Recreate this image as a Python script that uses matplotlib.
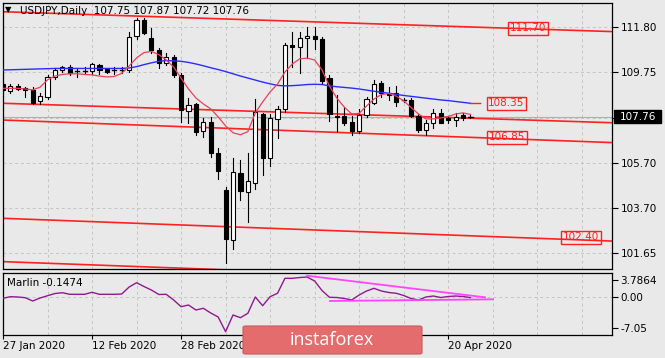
import numpy as np
import matplotlib
matplotlib.use('Agg')
import matplotlib.pyplot as plt
from matplotlib.patches import Rectangle, FancyBboxPatch

# daily candles, 27 Jan 2020 .. 23 Apr 2020 (one row per trading day)
opens = [109.22, 108.93, 109.15, 109.05, 108.95, 108.49, 108.66, 109.56, 109.84, 109.98,
         109.82, 109.83, 109.81, 110.08, 109.89, 109.84, 109.86, 109.87, 111.39, 112.12,
         111.28, 110.76, 110.19, 110.43, 109.64, 108.04, 108.34, 107.14, 107.55, 106.13,
         104.49, 102.25, 105.26, 104.41, 104.81, 107.89, 105.90, 107.65, 108.10, 110.98,
         110.87, 111.28, 111.40, 111.24, 109.49, 107.80, 107.80, 107.55, 107.14, 107.85,
         108.38, 109.27, 108.85, 108.83, 108.53, 108.52, 107.80, 107.17, 107.48, 107.92,
         107.70, 107.62, 107.85, 107.75]
highs = [109.32, 109.25, 109.25, 109.10, 109.10, 108.84, 109.64, 109.93, 110.03, 110.08,
         109.93, 109.98, 110.18, 110.13, 109.93, 109.98, 109.98, 111.58, 112.21, 112.19,
         111.74, 110.84, 110.61, 110.53, 109.72, 108.60, 108.40, 107.70, 107.74, 106.36,
         104.63, 105.91, 105.83, 106.13, 108.57, 107.95, 107.89, 108.25, 111.05, 111.54,
         111.58, 111.77, 111.77, 111.33, 109.64, 108.75, 108.22, 107.80, 108.10, 108.67,
         109.42, 109.38, 109.12, 109.15, 108.62, 108.60, 107.88, 107.63, 108.10, 108.10,
         107.82, 107.92, 107.92, 107.87]
lows = [108.80, 108.85, 108.95, 108.63, 108.34, 108.34, 108.56, 109.44, 109.79, 109.62,
        109.54, 109.69, 109.69, 109.69, 109.74, 109.69, 109.74, 109.79, 111.26, 111.46,
        110.61, 109.93, 110.09, 109.56, 107.54, 107.47, 106.95, 106.87, 105.98, 104.97,
        101.20, 101.84, 104.04, 103.07, 104.52, 105.16, 105.54, 106.80, 107.99, 109.98,
        109.72, 110.38, 110.79, 109.30, 107.57, 107.15, 107.38, 106.95, 107.05, 107.77,
        108.34, 108.67, 108.52, 108.26, 108.43, 107.75, 107.10, 106.95, 107.25, 107.48,
        107.50, 107.35, 107.62, 107.72]
closes = [108.95, 109.14, 109.03, 108.97, 108.38, 108.71, 109.54, 109.86, 109.98, 109.72,
          109.80, 109.82, 110.13, 109.84, 109.78, 109.86, 109.88, 111.36, 112.11, 111.51,
          110.76, 110.16, 110.46, 109.64, 108.07, 108.30, 107.10, 107.55, 106.16, 105.35,
          102.28, 105.30, 104.46, 104.90, 107.99, 105.90, 107.72, 108.10, 110.98, 110.87,
          111.28, 111.40, 111.25, 109.38, 107.87, 107.76, 107.50, 107.14, 107.85, 108.55,
          109.24, 108.85, 108.75, 108.44, 108.51, 107.80, 107.16, 107.48, 107.92, 107.50,
          107.60, 107.77, 107.70, 107.76]

# moving averages as drawn on the chart
ma_fast = [109.04, 109.04, 109.04, 109.01, 108.97, 109.09, 109.42, 109.59, 109.66, 109.69,
           109.69, 109.66, 109.64, 109.59, 109.55, 109.57, 109.71, 110.04, 110.40, 110.64,
           110.69, 110.55, 110.31, 109.99, 109.50, 109.01, 108.61, 108.34, 108.12, 107.76,
           107.36, 107.05, 106.96, 107.10, 107.94, 108.43, 108.88, 109.23, 109.77, 110.13,
           110.36, 110.39, 110.31, 109.86, 109.14, 108.60, 108.20, 107.89, 107.92, 108.25,
           108.56, 108.76, 108.81, 108.69, 108.48, 108.18, 107.89, 107.67, 107.67, 107.71,
           107.78, 107.89, 107.94, 107.87]
ma_slow = [109.86, 109.87, 109.88, 109.89, 109.90, 109.91, 109.92, 109.93, 109.93, 109.93,
           109.93, 109.93, 109.93, 109.93, 109.93, 109.93, 109.93, 109.95, 110.01, 110.10,
           110.18, 110.25, 110.28, 110.27, 110.25, 110.20, 110.13, 110.05, 109.96, 109.88,
           109.79, 109.69, 109.59, 109.50, 109.41, 109.32, 109.24, 109.17, 109.15, 109.16,
           109.18, 109.21, 109.22, 109.21, 109.15, 109.11, 109.08, 109.05, 109.01, 108.96,
           108.91, 108.86, 108.82, 108.77, 108.72, 108.68, 108.64, 108.60, 108.56, 108.52,
           108.49, 108.45, 108.41, 108.37]

marlin = [-0.32, 0.05, -0.02, -0.18, -0.93, -0.25, 0.27, 0.77, 0.95, 0.59,
          0.59, 0.59, 1.05, 0.59, 0.59, 0.59, 0.66, 2.25, 3.23, 2.36,
          1.57, 0.55, 0.59, -0.70, -2.23, -1.84, -2.98, -2.59, -3.66, -4.57,
          -7.91, -4.11, -4.73, -3.73, -0.02, -2.00, 0.05, 0.82, 4.23, 4.23,
          4.41, 4.52, 3.61, 1.45, -0.09, -0.14, -0.36, -0.70, 0.43, 1.34,
          1.95, 1.34, 1.00, 0.82, 0.32, -0.36, -0.70, -0.02, 0.20, -0.14,
          0.09, 0.20, 0.09, -0.1474]

# channel lines: (bar, price) end points
channel_lines = [
    [(0, 112.47), (82.08, 111.58)],
    [(0, 108.37), (82.08, 107.50)],
    [(0, 107.62), (82.08, 106.61)],
    [(0, 103.22), (82.08, 102.20)],
    [(0, 101.28), (82.08, 100.28)],
]
# trend lines on the oscillator
marlin_lines = [
    [(40.97, 4.82), (64.96, -0.09)],
    [(44.07, -0.93), (66.04, -0.55)],
]

price_ticks = [111.80, 109.75, 107.70, 105.70, 103.70, 101.65]
# 107.70 sits under the current price tag, so its label is not shown
price_tick_labels = ['111.80', '109.75', '', '105.70', '103.70', '101.65']
marlin_ticks = [3.7864, 0.0, -7.05]
marlin_tick_labels = ['3.7864', '0.00', '-7.05']
date_ticks = [0, 12, 24, 36, 48, 60]
# 17 Mar and 2 Apr are hidden behind the watermark
date_labels = ['27 Jan 2020', '12 Feb 2020', '28 Feb 2020', '', '', '20 Apr 2020']
last_price = 107.76

BG = '#e9e9e9'
W, H = 665, 358
XMAX = 82.08
fs = 7.5

fig = plt.figure(figsize=(W / 100, H / 100), dpi=100, facecolor=BG)
ax = fig.add_axes([3 / W, 1 - 269 / H, 609 / W, 266 / H], facecolor=BG)
ax2 = fig.add_axes([3 / W, 1 - 334.5 / H, 609 / W, 62 / H], facecolor=BG)

n = len(closes)
x = np.arange(n)

# grid
for a in (ax, ax2):
    for g in range(0, 80, 6):
        a.axvline(g, color='#c4c4c4', ls=(0, (3, 3)), lw=0.7, zorder=0)
for p in price_ticks:
    ax.axhline(p, color='#c4c4c4', ls=(0, (3, 3)), lw=0.7, zorder=0)
ax2.axhline(0, color='#c4c4c4', ls=(0, (3, 3)), lw=0.7, zorder=0)

# bid line
ax.axhline(last_price, color='#b0b0b0', lw=0.8, zorder=1)

# channel lines
for ln in channel_lines:
    (x0, y0), (x1, y1) = ln
    ax.plot([x0, x1], [y0, y1], color='#ff2020', lw=1.2, zorder=2)

# candles
bw = 0.56
for i in range(n):
    o, h, l, c = opens[i], highs[i], lows[i], closes[i]
    ax.plot([i, i], [l, h], color='black', lw=0.8, zorder=3)
    lo, hi = min(o, c), max(o, c)
    if hi - lo < 0.03:
        ax.plot([i - bw / 2, i + bw / 2], [c, c], color='black', lw=1.0, zorder=4)
    else:
        fc = 'white' if c >= o else 'black'
        ax.add_patch(Rectangle((i - bw / 2, lo), bw, hi - lo, facecolor=fc,
                               edgecolor='black', lw=0.8, zorder=4))

ax.plot(x, ma_slow, color='#2b2bff', lw=1.0, zorder=5)
ax.plot(x, ma_fast, color='#e8405c', lw=0.9, zorder=5)

# price labels on the lines
lab = dict(color='#ff2020', fontsize=fs, ha='center', va='center', zorder=6,
           bbox=dict(boxstyle='square,pad=0.15', fc='none', ec='#ff2020', lw=1))
ax.text(70.75, 111.73, '111.70', **lab)
ax.text(67.85, ma_slow[-1], '108.35', **lab)
ax.text(67.9, 106.84, '106.85', **lab)
ax.text(77.9, 102.37, '102.40', **lab)
ax.plot([n - 1, 64.3], [ma_slow[-1], ma_slow[-1]], color='#ff2020', lw=1, zorder=6)

ax.set_xlim(0, XMAX)
ax.set_ylim(100.95, 112.86)
ax.set_xticks([])
ax.yaxis.tick_right()
ax.set_yticks(price_ticks)
ax.set_yticklabels(price_tick_labels)
ax.tick_params(axis='y', length=4, width=0.8, labelsize=fs, pad=2, colors='black')

# current price tag
tr = ax.get_yaxis_transform()
ax.add_patch(Rectangle((1.0033, last_price - 0.29), 47 / 609, 0.58, transform=tr,
                       facecolor='black', edgecolor='black', clip_on=False, zorder=10))
ax.text(1.0033 + 23.5 / 609, last_price, '%.2f' % last_price, transform=tr, color='white',
        fontsize=fs, ha='center', va='center', zorder=11, clip_on=False)

# oscillator
ax2.plot(x, marlin, color='#8e1a8e', lw=1.0, zorder=3)
for ln in marlin_lines:
    (x0, y0), (x1, y1) = ln
    ax2.plot([x0, x1], [y0, y1], color='#ff44ff', lw=1.3, zorder=4)
ax2.set_xlim(0, XMAX)
ax2.set_ylim(-8.55, 5.55)
ax2.yaxis.tick_right()
ax2.set_yticks(marlin_ticks)
ax2.set_yticklabels(marlin_tick_labels)
ax2.set_xticks(date_ticks)
ax2.set_xticklabels(date_labels, ha='left')
ax2.tick_params(axis='y', length=4, width=0.8, labelsize=fs, pad=2)
ax2.tick_params(axis='x', length=3, width=0.8, labelsize=fs, pad=2)

for a in (ax, ax2):
    for s in a.spines.values():
        s.set_color('black')
        s.set_linewidth(0.9)

# header texts
fig.text(5 / W, 1 - 10 / H, '\u25bc', fontsize=6, va='center', ha='left')
fig.text(20 / W, 1 - 11 / H, 'USDJPY,Daily  107.75 107.87 107.72 107.76', fontsize=fs,
         va='center', ha='left')
fig.text(7 / W, 1 - 283 / H, 'Marlin -0.1474', fontsize=fs, va='center', ha='left')

# watermark
logo = FancyBboxPatch((243 / W, 1 - 354 / H), 179 / W, 28 / H, boxstyle='round,pad=0,rounding_size=0.004',
                      transform=fig.transFigure, facecolor='#e46c6c', edgecolor='#c85a5a', lw=0.8)
fig.add_artist(logo)
fig.text(332 / W, 1 - 340 / H, 'instaforex', family='Open Sans', fontsize=13, color='white',
         ha='center', va='center')

fig.savefig('out.png', dpi=100, facecolor=BG)
